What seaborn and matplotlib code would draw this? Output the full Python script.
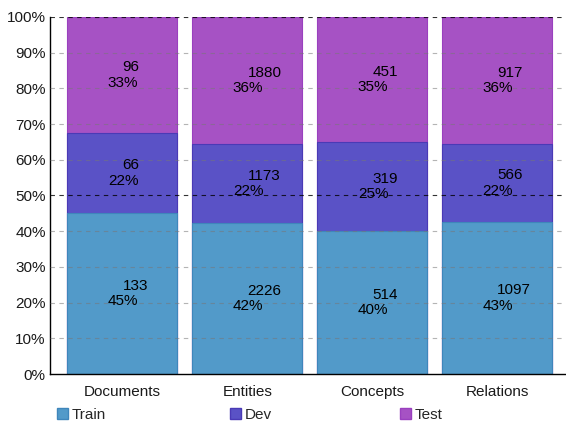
import matplotlib
matplotlib.use("Agg")
import matplotlib.pyplot as plt
import matplotlib.patches as mpatches
import seaborn as sns
import pandas as pd
import numpy as np

categories = ["Documents", "Entities", "Concepts", "Relations"]
series = ["Train", "Dev", "Test"]
train = [133, 2226, 514, 1097]
dev = [66, 1173, 319, 566]
test = [96, 1880, 451, 917]
yticklabels = ["0%", "10%", "20%", "30%", "40%", "50%", "60%", "70%", "80%", "90%", "100%"]

colors = {"Train": "#529ac9", "Dev": "#5a52c6", "Test": "#a652c4"}
edges = {"Train": "#3f86bb", "Dev": "#4a3ab6", "Test": "#9a40bf"}

sns.set_style("white")
plt.rcParams["font.family"] = ["Liberation Sans", "DejaVu Sans"]
FS = 11

vals = np.array([train, dev, test], dtype=float)
tot = vals.sum(axis=0)
pct = vals / tot * 100
cum = np.cumsum(pct, axis=0)

fig = plt.figure(figsize=(5.66, 4.23), dpi=100)
ax = fig.add_axes([50/566, 1-374/423, 1-50/566, (374-17)/423])

# draw from top (cumulative) to bottom
for i in [2, 1, 0]:
    s = series[i]
    df = pd.DataFrame({"cat": categories, "h": cum[i]})
    sns.barplot(data=df, x="cat", y="h", order=categories, color=colors[s],
                edgecolor=edges[s], linewidth=0.8, width=0.88, ax=ax,
                saturation=1, zorder=2)

bottoms = np.vstack([np.zeros(4), cum[:-1]])
for i in range(3):
    for j in range(4):
        mid = bottoms[i, j] + pct[i, j] / 2
        ax.annotate(f"{int(vals[i, j])}", (j, mid), xytext=(0, 5.5), textcoords="offset points",
                    ha="left", va="center", fontsize=FS, color="black", zorder=5)
        ax.annotate(f"{pct[i, j]:.0f}%", (j, mid), xytext=(-10.5, -5.5), textcoords="offset points",
                    ha="left", va="center", fontsize=FS, color="black", zorder=5)

ax.set_xlim(-0.58, 3.55)
ax.set_ylim(0, 100)
ax.set_yticks(np.arange(0, 101, 10))
ax.set_yticklabels(yticklabels)
for y in range(10, 101, 10):
    if y in (50, 100):
        ax.axhline(y, color="black", lw=0.8, ls=(0, (4, 4)), alpha=0.8, zorder=3)
    else:
        ax.axhline(y, color="#777777", lw=0.8, ls=(0, (4, 4)), alpha=0.55, zorder=3)
ax.set_xlabel("")
ax.set_ylabel("")
ax.tick_params(axis="y", length=0, labelsize=FS, colors="#1a1a1a", pad=3)
ax.tick_params(axis="x", length=0, labelsize=FS, colors="#1a1a1a", pad=8)
for sp in ["top", "right"]:
    ax.spines[sp].set_visible(False)
for sp in ["left", "bottom"]:
    ax.spines[sp].set_color("black")
    ax.spines[sp].set_linewidth(1.0)

legend_x = [57, 230, 400]
for s, lx in zip(series, legend_x):
    h = mpatches.Patch(facecolor=colors[s], edgecolor=edges[s], label=s)
    fig.legend(handles=[h], loc="center left", bbox_to_anchor=(lx/566, 1-415/423),
               frameon=False, fontsize=FS, handlelength=0.75, handleheight=0.75,
               handletextpad=0.2, borderaxespad=0, borderpad=0)

fig.savefig("out.png", dpi=100)
